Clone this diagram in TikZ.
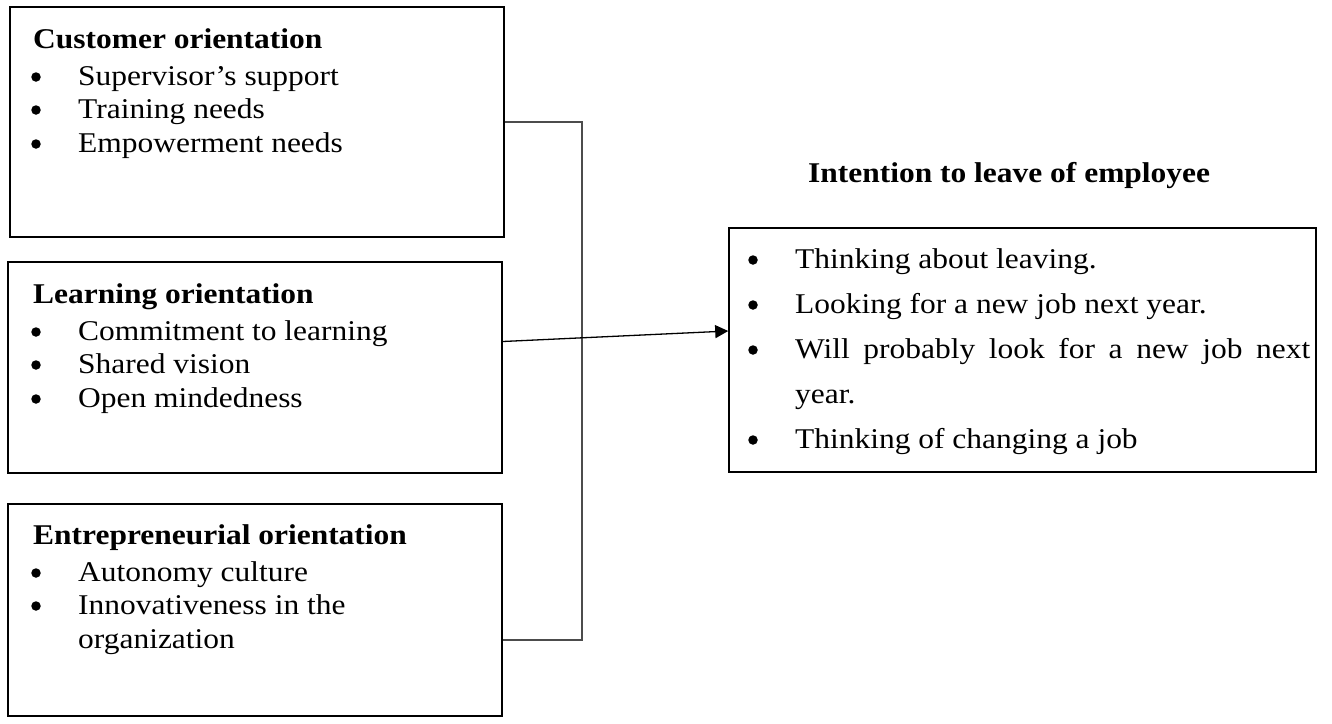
\documentclass[tikz,border=0pt]{standalone}
\usepackage{fontspec}
\setmainfont{Liberation Serif}[FakeStretch=1.1]
\usetikzlibrary{arrows.meta,calc}
\begin{document}
\begin{tikzpicture}[x=1pt,y=-1pt,
  box/.style={draw=black,line width=1.6pt,inner sep=0pt},
  txt/.style={anchor=base west,inner sep=0pt,font=\fontsize{28.6}{32}\selectfont},
  hd/.style={anchor=base west,inner sep=0pt,font=\fontsize{28.6}{32}\selectfont\bfseries},
  bul/.style={circle,fill=black,inner sep=0pt,minimum size=9.5pt},
  bracket/.style={draw=black!70,line width=1.2pt},
  arr/.style={draw=black,line width=1.3pt,-{Triangle[length=13pt,width=13pt]}}
]
\useasboundingbox (0,0) rectangle (1332,723);
% boxes
\node[box,minimum width=494pt,minimum height=230pt] (B1) at (257,122) {};
\node[box,minimum width=494pt,minimum height=211pt] (B2) at (255,367.5) {};
\node[box,minimum width=494pt,minimum height=212pt] (B3) at (255,610) {};
\node[box,minimum width=587pt,minimum height=244pt] (RB) at (1022.5,350) {};
% box 1
\node[hd] (h1) at (33,48) {Customer orientation};
\node[bul] (b11) at (36,77) {};
\node[txt] (t11) at (78,85) {Supervisor’s support};
\node[bul] (b12) at (36,110) {};
\node[txt] (t12) at (78,118) {Training needs};
\node[bul] (b13) at (36,144) {};
\node[txt] (t13) at (78,152) {Empowerment needs};
% box 2
\node[hd] (h2) at (33,303) {Learning orientation};
\node[bul] (b21) at (36,332) {};
\node[txt] (t21) at (78,340) {Commitment to learning};
\node[bul] (b22) at (36,365) {};
\node[txt] (t22) at (78,373) {Shared vision};
\node[bul] (b23) at (36,399) {};
\node[txt] (t23) at (78,407) {Open mindedness};
% box 3
\node[hd] (h3) at (33,544) {Entrepreneurial orientation};
\node[bul] (b31) at (36,573) {};
\node[txt] (t31) at (78,581) {Autonomy culture};
\node[bul] (b32) at (36,606) {};
\node[txt] (t32) at (78,614) {Innovativeness in the};
\node[txt] (t33) at (78,648) {organization};
% title and right box
\node[hd] (title) at (808,182) {Intention to leave of employee};
\node[bul] (r1b) at (753,260) {};
\node[txt] (r1) at (795,268) {Thinking about leaving.};
\node[bul] (r2b) at (753,305) {};
\node[txt] (r2) at (795,313) {Looking for a new job next year.};
\node[bul] (r3b) at (753,350) {};
\node[txt] (r3) at (795,358) {\makebox[515pt][s]{Will probably look for a new job next}};
\node[txt] (r4) at (795,403) {year.};
\node[bul] (r5b) at (753,440) {};
\node[txt] (r5) at (795,448) {Thinking of changing a job};
% connectors
\coordinate (k) at (582,640);
\draw[bracket] (B1.east) -| (k) -- (k -| B3.east);
\coordinate (a0) at ([yshift=26pt]B2.east);
\coordinate (a1) at ([yshift=19pt]RB.west);
\draw[arr] (a0) -- (a1);
\end{tikzpicture}
\end{document}
